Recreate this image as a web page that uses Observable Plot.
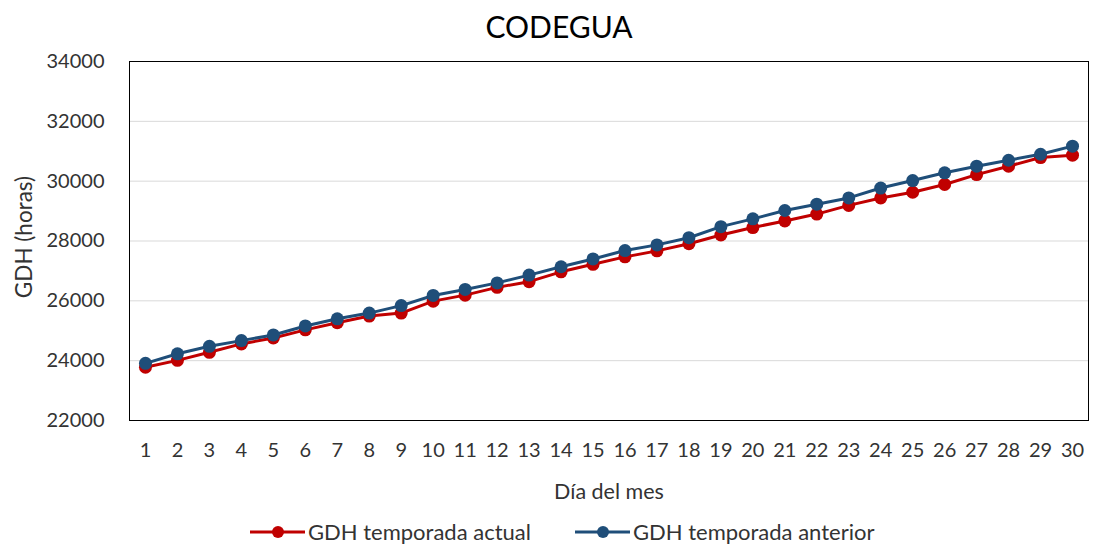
<!DOCTYPE html>
<html>
<head>
<meta charset="utf-8">
<script src="https://cdn.jsdelivr.net/npm/d3@7"></script>
<script src="https://cdn.jsdelivr.net/npm/@observablehq/plot@0.6"></script>
<style>
  html, body { margin: 0; padding: 0; background: #fff; overflow: hidden; }
  body { width: 1117px; height: 546px; font-family: Lato, "Open Sans", sans-serif; }
  #legend { display: flex; justify-content: flex-start; align-items: center; height: 44px; gap: 44px; font-size: 22px; line-height: 1.1; color: #333; padding-left: 250px; }
  .item { display: flex; align-items: center; gap: 3px; white-space: nowrap; }
</style>
</head>
<body>
<div id="chart"></div>
<div id="legend"></div>
<script>
const titulo = "CODEGUA";
const etiquetaY = "GDH (horas)";
const etiquetaX = "Día del mes";
const dias = [1,2,3,4,5,6,7,8,9,10,11,12,13,14,15,16,17,18,19,20,21,22,23,24,25,26,27,28,29,30];
const actual = [23780,24010,24280,24560,24760,25030,25270,25490,25590,25990,26190,26450,26640,26970,27220,27470,27670,27910,28200,28450,28670,28900,29190,29440,29630,29890,30220,30500,30790,30870];
const anterior = [23910,24230,24480,24670,24860,25160,25400,25590,25840,26180,26380,26600,26860,27140,27400,27680,27870,28110,28480,28740,29020,29230,29440,29770,30020,30280,30500,30700,30900,31170];
const yTicks = [22000,24000,26000,28000,30000,32000,34000];
const series = [
  {name: "GDH temporada actual", values: actual, color: "#c00000"},
  {name: "GDH temporada anterior", values: anterior, color: "#1f4e79"}
];

const W = 1117, mL = 129, mR = 29;
const marks = [
  Plot.gridY(yTicks, {stroke: "#d9d9d9", strokeOpacity: 1}),
  Plot.axisY(yTicks, {tickSize: 0, tickPadding: 25, tickFormat: d3.format("d"), label: null, fill: "#333"}),
  Plot.axisX(dias, {tickSize: 0, tickPadding: 22, tickFormat: d3.format("d"), label: null, fill: "#333"}),
  Plot.frame({stroke: "#000", strokeWidth: 1}),
  Plot.text([titulo], {frameAnchor: "top", dy: -33, dx: -(mL - mR) / 2, fontSize: 30, lineAnchor: "middle", fill: "#000"}),
  Plot.text([etiquetaX], {frameAnchor: "bottom", dy: 72, fontSize: 21.5, lineAnchor: "middle", fill: "#333"}),
  Plot.text([etiquetaY], {frameAnchor: "left", dx: -105, dy: -4, rotate: -90, fontSize: 22.5, textAnchor: "middle", lineAnchor: "middle", fill: "#333"})
];
for (const s of series) {
  const data = dias.map((d, i) => ({dia: d, v: s.values[i]}));
  marks.push(Plot.line(data, {x: "dia", y: "v", stroke: s.color, strokeWidth: 3}));
  marks.push(Plot.dot(data, {x: "dia", y: "v", r: 6.5, fill: s.color, stroke: "none"}));
}

const chart = Plot.plot({
  width: W,
  height: 510,
  marginTop: 61,
  marginBottom: 90,
  marginLeft: mL,
  marginRight: mR,
  style: {fontSize: "20px", fontFamily: "Lato, 'Open Sans', sans-serif", color: "#333", background: "#fff"},
  x: {type: "linear", domain: [0.5, 30.5], axis: null},
  y: {domain: [22000, 34000], axis: null},
  marks
});
document.getElementById("chart").appendChild(chart);

const legend = document.getElementById("legend");
for (const s of series) {
  const item = document.createElement("div");
  item.className = "item";
  item.innerHTML = `<svg width="55" height="16"><line x1="0" y1="8" x2="55" y2="8" stroke="${s.color}" stroke-width="3"/><circle cx="28" cy="8" r="6" fill="${s.color}"/></svg><span>${s.name}</span>`;
  legend.appendChild(item);
}
</script>
</body>
</html>
